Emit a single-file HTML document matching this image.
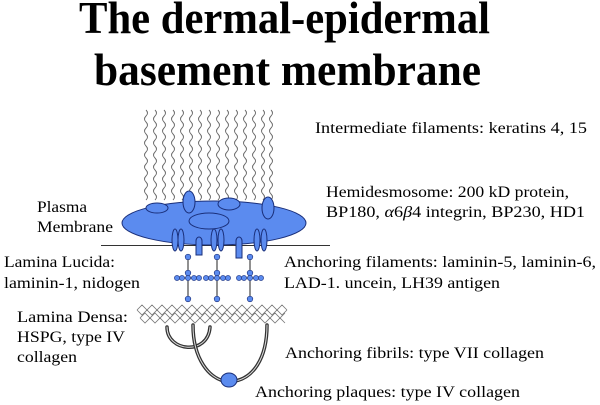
<!DOCTYPE html>
<html><head><meta charset="utf-8"><style>
html,body{margin:0;padding:0;background:#fff;}
svg{display:block;}
</style></head><body>
<svg width="600" height="405" viewBox="0 0 600 405" xmlns="http://www.w3.org/2000/svg" font-family="'Liberation Serif', 'Times New Roman', serif">
<defs>
<path id="w" d="M0,110 q3,3 0,6 q-3,3 0,6 q3,3 0,6 q-3,3 0,6 q3,3 0,6 q-3,3 0,6 q3,3 0,6 q-3,3 0,6 q3,3 0,6 q-3,3 0,6 q3,3 0,6 q-3,3 0,6 q3,3 0,6 q-3,3 0,6 q3,3 0,6" fill="none" stroke="#666" stroke-width="0.9"/>
<g id="af">
<line x1="0" y1="257" x2="0" y2="299" stroke="#222" stroke-width="1"/>
<line x1="-12" y1="278" x2="12" y2="278" stroke="#222" stroke-width="1"/>
<g fill="#5b8bef" stroke="#1a2f7a" stroke-width="0.6">
<circle cx="0" cy="257" r="2.8"/><circle cx="0" cy="273" r="2.8"/><circle cx="0" cy="299" r="2.8"/>
<circle cx="-11" cy="278" r="2.6"/><circle cx="-6" cy="278" r="2.6"/><circle cx="0" cy="278" r="2.6"/>
<circle cx="6" cy="278" r="2.6"/><circle cx="11" cy="278" r="2.6"/>
</g></g>
</defs>
<text x="79" y="33" font-size="46" font-weight="bold" textLength="411" lengthAdjust="spacingAndGlyphs" font-family="'Liberation Serif', serif">The dermal-epidermal</text>
<text x="94" y="85" font-size="46" font-weight="bold" textLength="387" lengthAdjust="spacingAndGlyphs" font-family="'Liberation Serif', serif">basement membrane</text>

<g>
<use href="#w" x="146"/><use href="#w" x="155"/><use href="#w" x="164"/><use href="#w" x="173"/><use href="#w" x="182"/>
<use href="#w" x="191"/><use href="#w" x="200"/><use href="#w" x="209"/><use href="#w" x="218"/><use href="#w" x="227"/>
<use href="#w" x="236"/><use href="#w" x="245"/><use href="#w" x="254"/><use href="#w" x="263"/><use href="#w" x="271"/>
</g>

<line x1="101" y1="245.5" x2="330" y2="245.5" stroke="#333" stroke-width="1"/>
<g fill="#5b8bef" stroke="#1a2f7a" stroke-width="1">
<ellipse cx="214" cy="223" rx="92" ry="22"/>
<ellipse cx="157" cy="208" rx="11" ry="5"/>
<ellipse cx="189" cy="202" rx="6" ry="11"/>
<ellipse cx="229" cy="204" rx="11" ry="6"/>
<ellipse cx="268" cy="208" rx="6" ry="11"/>
<ellipse cx="209" cy="221" rx="20" ry="8"/>
<ellipse cx="175" cy="240" rx="3" ry="11"/><ellipse cx="181" cy="240" rx="3" ry="11"/>
<ellipse cx="214" cy="240" rx="3" ry="11"/><ellipse cx="221" cy="240" rx="3" ry="11"/>
<ellipse cx="257" cy="240" rx="3" ry="11"/><ellipse cx="264" cy="240" rx="3" ry="11"/>
<path d="M196,255 V241 a3,4 0 0 1 6,0 V255 Z"/>
<path d="M236,258 V241 a3,4 0 0 1 6,0 V258 Z"/>
</g>
<use href="#af" x="188"/><use href="#af" x="217"/><use href="#af" x="250"/>

<g stroke="#777" stroke-width="0.8" fill="none">
<path d="M137,310 l5,-5 l5,5 l5,-5 l5,5 l5,-5 l5,5 l5,-5 l5,5 l5,-5 l5,5 l5,-5 l5,5 l5,-5 l5,5 l5,-5 l5,5 l5,-5 l5,5 l5,-5 l5,5 l5,-5 l5,5 l5,-5 l5,5 l5,-5 l5,5 l5,-5 l5,5 l5,-5 l5,5"/>
<path d="M137,310 l5,5 l5,-5 l5,5 l5,-5 l5,5 l5,-5 l5,5 l5,-5 l5,5 l5,-5 l5,5 l5,-5 l5,5 l5,-5 l5,5 l5,-5 l5,5 l5,-5 l5,5 l5,-5 l5,5 l5,-5 l5,5 l5,-5 l5,5 l5,-5 l5,5 l5,-5 l5,5 l5,-5"/>
<path d="M140,318 l5,-5 l5,5 l5,-5 l5,5 l5,-5 l5,5 l5,-5 l5,5 l5,-5 l5,5 l5,-5 l5,5 l5,-5 l5,5 l5,-5 l5,5 l5,-5 l5,5 l5,-5 l5,5 l5,-5 l5,5 l5,-5 l5,5 l5,-5 l5,5 l5,-5 l5,5 l5,-5"/>
<path d="M140,318 l5,5 l5,-5 l5,5 l5,-5 l5,5 l5,-5 l5,5 l5,-5 l5,5 l5,-5 l5,5 l5,-5 l5,5 l5,-5 l5,5 l5,-5 l5,5 l5,-5 l5,5 l5,-5 l5,5 l5,-5 l5,5 l5,-5 l5,5 l5,-5 l5,5 l5,-5 l5,5"/>
</g>

<g fill="none" stroke-linecap="round">
<path d="M167,327 C167,352 208,356 210,327" stroke="#333" stroke-width="3.5"/>
<path d="M167,327 C167,352 208,356 210,327" stroke="#ddd" stroke-width="1"/>
<path d="M193,325 C193,360 210,378 224,381" stroke="#333" stroke-width="3.5"/>
<path d="M193,325 C193,360 210,378 224,381" stroke="#ddd" stroke-width="1"/>
<path d="M267,325 C267,360 252,378 235,381" stroke="#333" stroke-width="3.5"/>
<path d="M267,325 C267,360 252,378 235,381" stroke="#ddd" stroke-width="1"/>
</g>
<ellipse cx="229" cy="380" rx="8" ry="7" fill="#5b8bef" stroke="#1a2f7a" stroke-width="1"/>

<g font-size="16" font-family="'Liberation Serif', serif" fill="#000">
<text x="315" y="133" textLength="272" lengthAdjust="spacingAndGlyphs">Intermediate filaments: keratins 4, 15</text>
<text x="326" y="197" textLength="243" lengthAdjust="spacingAndGlyphs">Hemidesmosome: 200 kD protein,</text>
<text x="326" y="217" textLength="259" lengthAdjust="spacingAndGlyphs">BP180, <tspan font-style="italic">α</tspan>6<tspan font-style="italic">β</tspan>4 integrin, BP230, HD1</text>
<text x="37" y="212" textLength="50" lengthAdjust="spacingAndGlyphs">Plasma</text>
<text x="37" y="232" textLength="76" lengthAdjust="spacingAndGlyphs">Membrane</text>
<text x="4" y="267" textLength="111" lengthAdjust="spacingAndGlyphs">Lamina Lucida:</text>
<text x="4" y="288" textLength="136" lengthAdjust="spacingAndGlyphs">laminin-1, nidogen</text>
<text x="284" y="267" textLength="312" lengthAdjust="spacingAndGlyphs">Anchoring filaments: laminin-5, laminin-6,</text>
<text x="284" y="288" textLength="216" lengthAdjust="spacingAndGlyphs">LAD-1. uncein, LH39 antigen</text>
<text x="17" y="322" textLength="111" lengthAdjust="spacingAndGlyphs">Lamina Densa:</text>
<text x="17" y="342" textLength="108" lengthAdjust="spacingAndGlyphs">HSPG, type IV</text>
<text x="17" y="362" textLength="60" lengthAdjust="spacingAndGlyphs">collagen</text>
<text x="285" y="358" textLength="259" lengthAdjust="spacingAndGlyphs">Anchoring fibrils: type VII collagen</text>
<text x="255" y="397" textLength="265" lengthAdjust="spacingAndGlyphs">Anchoring plaques: type IV collagen</text>
</g>
</svg>
</body></html>
